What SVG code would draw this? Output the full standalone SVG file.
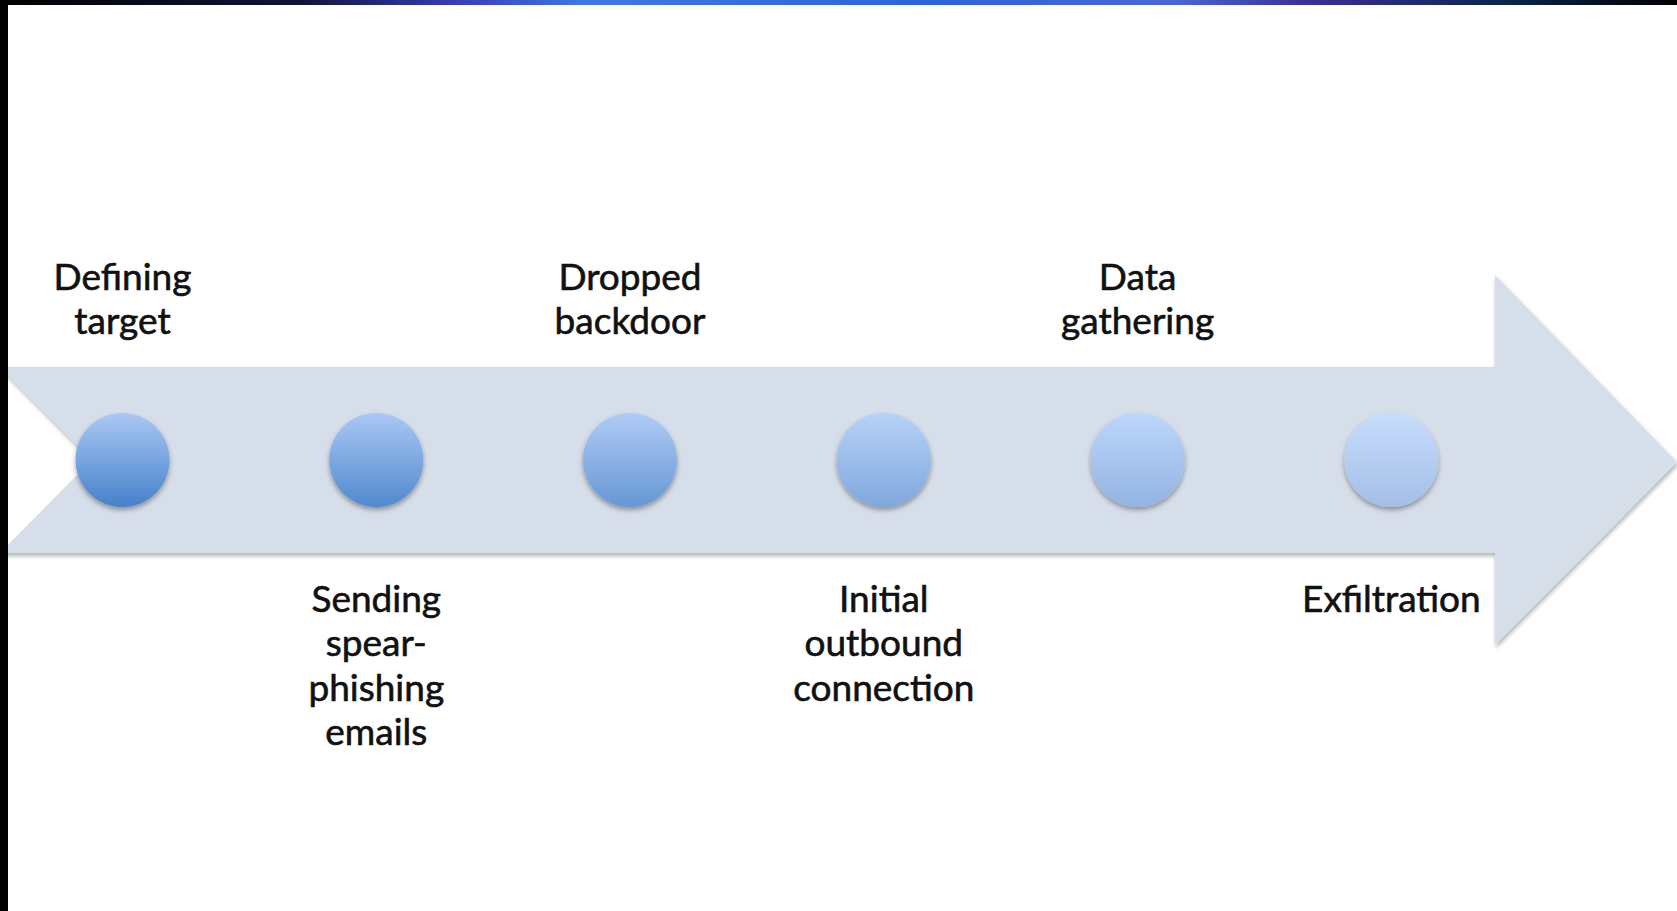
<svg xmlns="http://www.w3.org/2000/svg" width="1677" height="911" viewBox="0 0 1677 911">
  <defs>
    <linearGradient id="topbar" x1="0" y1="0" x2="1" y2="0">
      <stop offset="0" stop-color="#000000"/>
      <stop offset="0.18" stop-color="#0e1638"/>
      <stop offset="0.27" stop-color="#3a3ab8"/>
      <stop offset="0.35" stop-color="#3f78e6"/>
      <stop offset="0.55" stop-color="#2f62dc"/>
      <stop offset="0.7" stop-color="#4a66d8"/>
      <stop offset="0.78" stop-color="#3a2f9a"/>
      <stop offset="0.9" stop-color="#0a2448"/>
      <stop offset="1" stop-color="#000000"/>
    </linearGradient>
    <linearGradient id="g1" x1="0" y1="0" x2="0" y2="1">
      <stop offset="0" stop-color="#abc8f4"/>
      <stop offset="1" stop-color="#4581ca"/>
    </linearGradient>
    <linearGradient id="g2" x1="0" y1="0" x2="0" y2="1">
      <stop offset="0" stop-color="#aac8f4"/>
      <stop offset="1" stop-color="#5089ce"/>
    </linearGradient>
    <linearGradient id="g3" x1="0" y1="0" x2="0" y2="1">
      <stop offset="0" stop-color="#b0ccf6"/>
      <stop offset="1" stop-color="#6697d4"/>
    </linearGradient>
    <linearGradient id="g4" x1="0" y1="0" x2="0" y2="1">
      <stop offset="0" stop-color="#b6d2f8"/>
      <stop offset="1" stop-color="#80a7dc"/>
    </linearGradient>
    <linearGradient id="g5" x1="0" y1="0" x2="0" y2="1">
      <stop offset="0" stop-color="#bcd7fb"/>
      <stop offset="1" stop-color="#93b3e2"/>
    </linearGradient>
    <linearGradient id="g6" x1="0" y1="0" x2="0" y2="1">
      <stop offset="0" stop-color="#c6ddfd"/>
      <stop offset="1" stop-color="#a5bee6"/>
    </linearGradient>
    <filter id="shadow" x="-10%" y="-10%" width="120%" height="130%">
      <feDropShadow dx="1" dy="3" stdDeviation="2" flood-color="#000000" flood-opacity="0.3"/>
    </filter>
    <filter id="cshadow" x="-20%" y="-20%" width="140%" height="150%">
      <feDropShadow dx="0" dy="3" stdDeviation="2.5" flood-color="#000000" flood-opacity="0.35"/>
    </filter>
  </defs>
  <style>
    .lbl { font-family: Lato, "Open Sans", "Liberation Sans", sans-serif; font-size: 37px; fill: #111111; stroke: #111111; stroke-width: 0.6px; text-anchor: middle; }
    .dot { filter: url(#cshadow); }
  </style>
  <rect x="0" y="0" width="1677" height="911" fill="#ffffff"/>

  <g id="connectors">
    <polygon points="0,367 1495,367 1495,275 1677,462 1495,645 1495,553 0,553 92,460" fill="#d6deea" filter="url(#shadow)"/>
  </g>

  <rect x="0" y="0" width="1677" height="5" fill="url(#topbar)"/>
  <rect x="0" y="0" width="8" height="911" fill="#000000"/>

  <g id="node1">
    <circle class="dot" cx="122.5" cy="460" r="47" fill="url(#g1)"/>
    <text class="lbl" x="122.5" y="290">Defining</text>
    <text class="lbl" x="122.5" y="334">target</text>
  </g>
  <g id="node2">
    <circle class="dot" cx="376.3" cy="460" r="47" fill="url(#g2)"/>
    <text class="lbl" x="376.3" y="612">Sending</text>
    <text class="lbl" x="376.3" y="656">spear-</text>
    <text class="lbl" x="376.3" y="701">phishing</text>
    <text class="lbl" x="376.3" y="745">emails</text>
  </g>
  <g id="node3">
    <circle class="dot" cx="630" cy="460" r="47" fill="url(#g3)"/>
    <text class="lbl" x="630" y="290">Dropped</text>
    <text class="lbl" x="630" y="334">backdoor</text>
  </g>
  <g id="node4">
    <circle class="dot" cx="883.8" cy="460" r="47" fill="url(#g4)"/>
    <text class="lbl" x="883.8" y="612">Initial</text>
    <text class="lbl" x="883.8" y="656">outbound</text>
    <text class="lbl" x="883.8" y="701">connection</text>
  </g>
  <g id="node5">
    <circle class="dot" cx="1137.6" cy="460" r="47" fill="url(#g5)"/>
    <text class="lbl" x="1137.6" y="290">Data</text>
    <text class="lbl" x="1137.6" y="334">gathering</text>
  </g>
  <g id="node6">
    <circle class="dot" cx="1391.4" cy="460" r="47" fill="url(#g6)"/>
    <text class="lbl" x="1391.4" y="612">Exfiltration</text>
  </g>
</svg>
